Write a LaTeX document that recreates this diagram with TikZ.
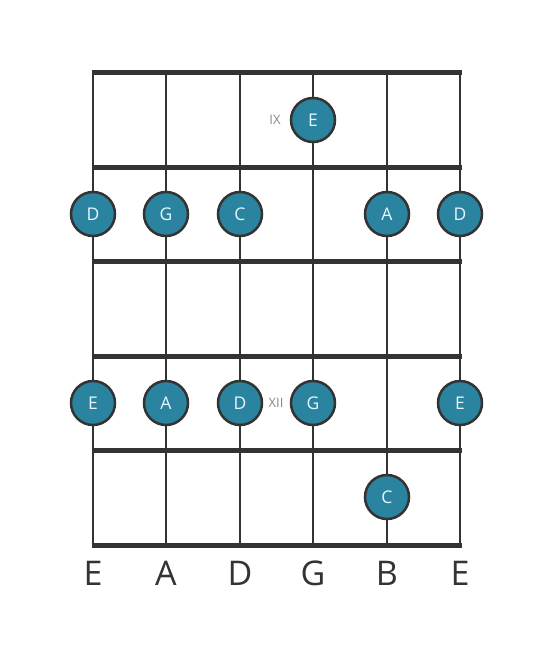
\documentclass[tikz,border=0pt]{standalone}
\usepackage{fontspec}
\setmainfont{Open Sans}
\definecolor{line}{HTML}{333333}
\definecolor{notefill}{HTML}{2A849F}
\definecolor{notetext}{HTML}{E6F7FF}
\definecolor{numgray}{HTML}{888888}
\begin{document}
\begin{tikzpicture}[x=1pt,y=-1pt,
  fretline/.style={line width=5pt,draw=line},
  stringline/.style={line width=2.5pt,draw=line},
  note/.style={circle,minimum size=44pt,inner sep=0pt,fill=notefill,draw=line,line width=2.5pt,text=notetext,font=\fontsize{17.5}{17.5}\selectfont},
  fretnum/.style={text=numgray,font=\fontsize{13}{13}\selectfont,inner sep=0pt},
  strname/.style={text=line,font=\fontsize{34}{34}\selectfont,inner sep=0pt}]
\useasboundingbox (0,0) rectangle (553,656);
\fill[white] (0,0) rectangle (553,656);
% strings
\foreach \x/\n in {93/s1,166/s2,240/s3,313/s4,387/s5,460/s6}{
  \coordinate (\n t) at (\x,72);
  \coordinate (\n b) at (\x,545);
  \draw[stringline] (\n t) -- (\n b);
}
% frets
\foreach \y/\n in {72/f0,167/f1,261/f2,356/f3,450/f4,545/f5}{
  \coordinate (\n l) at (91.5,\y);
  \coordinate (\n r) at (461.5,\y);
  \draw[fretline] (\n l) -- (\n r);
}
% notes
\node[note] (n1) at (313,120) {E};
\node[fretnum] (ix) at (275,120) {IX};
\node[note] (n2) at (93,214) {D};
\node[note] (n3) at (166,214) {G};
\node[note] (n4) at (240,214) {C};
\node[note] (n5) at (387,214) {A};
\node[note] (n6) at (460,214) {D};
\node[note] (n7) at (93,403) {E};
\node[note] (n8) at (166,403) {A};
\node[note] (n9) at (240,403) {D};
\node[fretnum] (xii) at (276,403) {XII};
\node[note] (n10) at (313,403) {G};
\node[note] (n11) at (460,403) {E};
\node[note] (n12) at (387,497) {C};
% string names
\foreach \x/\t/\n in {93/E/l1,166/A/l2,240/D/l3,313/G/l4,387/B/l5,460/E/l6}{
  \node[strname] (\n) at (\x,573) {\t};
}
\end{tikzpicture}
\end{document}
